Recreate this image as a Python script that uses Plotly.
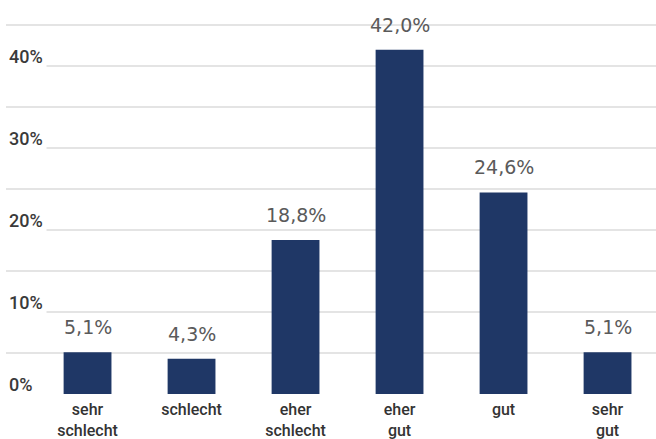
import plotly.graph_objects as go

# Survey answers and their shares (percent)
categories = ["sehr<br>schlecht", "schlecht", "eher<br>schlecht", "eher<br>gut", "gut", "sehr<br>gut"]
shares = [5.1, 4.3, 18.8, 42.0, 24.6, 5.1]
value_labels = ["5,1%", "4,3%", "18,8%", "42,0%", "24,6%", "5,1%"]
y_tick_values = [0, 10, 20, 30, 40]
y_tick_labels = ["0%", "10%", "20%", "30%", "40%"]

BAR = "#1f3766"
GRID = "#e4e4e4"
LABEL_FONT = "Roboto"

fig = go.Figure()
fig.add_trace(go.Bar(
    x=list(range(len(categories))),
    y=shares,
    marker=dict(color=BAR, line=dict(width=0)),
    width=0.46,
    hoverinfo="skip",
))

# value labels above each bar
for i, (v, lab) in enumerate(zip(shares, value_labels)):
    fig.add_annotation(
        x=i, y=v, xref="x", yref="y", text=lab, showarrow=False,
        yanchor="middle", yshift=25,
        font=dict(family="DejaVu Sans", size=19, color="#5a5a5a"),
    )

# y labels sit on the left end of their gridline
for v, lab in zip(y_tick_values, y_tick_labels):
    fig.add_annotation(
        x=0, y=v, xref="paper", yref="y", text=lab, showarrow=False,
        xanchor="left", yanchor="middle", yshift=10, xshift=-1,
        bgcolor="white", borderpad=3,
        font=dict(family=LABEL_FONT, size=18, color="#3a3a3a", weight=500),
    )

fig.update_layout(
    width=656, height=439,
    margin=dict(l=6, r=0, t=13, b=45),
    paper_bgcolor="white", plot_bgcolor="white",
    showlegend=False,
    xaxis=dict(
        range=[-0.784, 5.466],
        tickmode="array", tickvals=list(range(len(categories))), ticktext=categories,
        showgrid=False, zeroline=False, showline=False, ticks="",
        ticklabelstandoff=4,
        tickfont=dict(family=LABEL_FONT, size=16, color="#333333", weight=500),
        fixedrange=True,
    ),
    yaxis=dict(
        range=[0, 46.5], dtick=5, tick0=0,
        showticklabels=False, showgrid=True, gridcolor=GRID, gridwidth=1.5,
        zeroline=False, showline=False, ticks="",
        fixedrange=True,
    ),
)

fig.write_html("out.html", config={"displayModeBar": False})
